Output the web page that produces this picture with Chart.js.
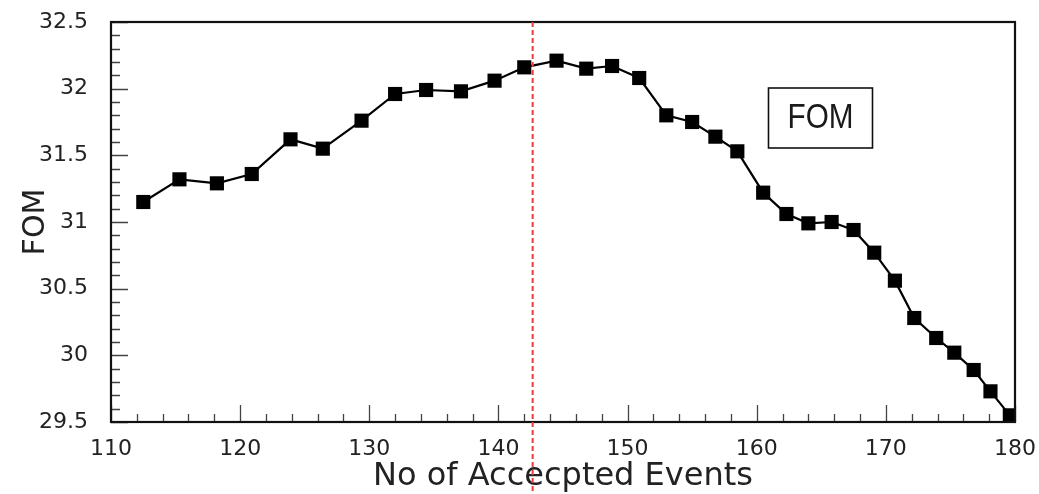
<!DOCTYPE html>
<html>
<head>
<meta charset="utf-8">
<script src="https://cdn.jsdelivr.net/npm/chart.js@4"></script>
<style>
    body { margin: 0; background: #fff; }
    #box { width: 1039px; height: 494px; position: relative; }
</style>
</head>
<body>
<div id="box"><canvas id="fomChart"></canvas></div>
<script>
// accepted events vs figure of merit
const acceptedEvents = [112.5, 115.3, 118.2, 120.9, 123.9, 126.4, 129.4, 132.0, 134.4, 137.1, 139.7,
    142.0, 144.5, 146.8, 148.8, 150.9, 153.0, 155.0, 156.8, 158.5, 160.5, 162.3, 164.0, 165.8,
    167.5, 169.1, 170.7, 172.2, 173.9, 175.3, 176.8, 178.1, 179.6];
const fomValues = [31.15, 31.32, 31.29, 31.36, 31.62, 31.55, 31.76, 31.96, 31.99, 31.98, 32.06,
    32.16, 32.21, 32.15, 32.17, 32.08, 31.80, 31.75, 31.64, 31.53, 31.22, 31.06, 30.99, 31.00,
    30.94, 30.77, 30.56, 30.28, 30.13, 30.02, 29.89, 29.73, 29.55];

const xTickValues = [110, 120, 130, 140, 150, 160, 170, 180];
const yTickValues = [29.5, 30, 30.5, 31, 31.5, 32, 32.5];
const xMinorStep = 2;
const yMinorStep = 0.1;

const cutValue = 142.65;   // chosen cut, red dashed line
const boxLabel = 'FOM';

let points = [];
for (let i = 0; i < acceptedEvents.length; i++) {
    points.push({ x: acceptedEvents[i], y: fomValues[i] });
}

Chart.defaults.font.family = 'DejaVu Sans';

// frame, inward ticks, cut line and the label box
const framePlugin = {
    id: 'frame',
    afterDatasetsDraw(chart) {
        const ctx = chart.ctx;
        const a = chart.chartArea;
        const xs = chart.scales.x;
        const ys = chart.scales.y;
        ctx.save();

        // minor / major ticks pointing into the plot
        ctx.strokeStyle = '#444';
        ctx.lineWidth = 1.3;
        ctx.beginPath();
        for (let v = xs.min; v <= xs.max + 1e-6; v += xMinorStep) {
            let px = Math.round(xs.getPixelForValue(v)) + 0.5;
            let len = Math.abs(v % 10) < 1e-6 ? 17 : 8;
            ctx.moveTo(px, a.bottom);
            ctx.lineTo(px, a.bottom - len);
        }
        for (let i = 0; i <= Math.round((ys.max - ys.min) / yMinorStep); i++) {
            let v = ys.min + i * yMinorStep;
            let py = Math.round(ys.getPixelForValue(v)) + 0.5;
            let len = i % 5 === 0 ? 17 : 9;
            ctx.moveTo(a.left, py);
            ctx.lineTo(a.left + len, py);
        }
        ctx.stroke();

        // box around the plot
        ctx.strokeStyle = '#111';
        ctx.lineWidth = 2.2;
        ctx.strokeRect(a.left, a.top, a.right - a.left, a.bottom - a.top);

        // cut line
        let cx = xs.getPixelForValue(cutValue);
        ctx.strokeStyle = '#f23a3a';
        ctx.lineWidth = 2;
        ctx.setLineDash([5, 3]);
        ctx.beginPath();
        ctx.moveTo(cx, a.top);
        ctx.lineTo(cx, chart.height);
        ctx.stroke();
        ctx.setLineDash([]);

        // label box
        ctx.strokeStyle = '#111';
        ctx.lineWidth = 1.6;
        ctx.strokeRect(768.5, 88, 104, 60);
        ctx.fillStyle = '#1a1a1a';
        ctx.font = '35px "Liberation Sans"';
        ctx.textAlign = 'center';
        ctx.textBaseline = 'middle';
        ctx.fillText(boxLabel, 820.5, 118, 66);
        ctx.restore();
    }
};

new Chart(document.getElementById('fomChart'), {
    type: 'line',
    data: {
        datasets: [{
            label: 'FOM',
            data: points,
            borderColor: '#000',
            borderWidth: 2.2,
            pointStyle: 'rect',
            pointRadius: 10,
            pointBorderWidth: 0,
            pointBackgroundColor: '#000',
            tension: 0,
            clip: 0
        }]
    },
    options: {
        responsive: true,
        maintainAspectRatio: false,
        animation: false,
        layout: { padding: { top: 22, right: 24, left: 0, bottom: 0 } },
        plugins: {
            legend: { display: false },
            tooltip: { enabled: false }
        },
        scales: {
            x: {
                type: 'linear',
                min: 110,
                max: 180,
                grid: { display: false, drawTicks: false },
                border: { display: false },
                afterBuildTicks: function (scale) {
                    scale.ticks = xTickValues.map(v => ({ value: v }));
                },
                afterFit: function (scale) {
                    scale.height = 72;
                    scale.paddingLeft = 0;
                    scale.paddingRight = 0;
                },
                ticks: {
                    color: '#222',
                    font: { size: 22 },
                    padding: 14,
                    maxRotation: 0,
                    autoSkip: false,
                    callback: v => String(v)
                },
                title: {
                    display: true,
                    text: 'No of Accecpted Events',
                    color: '#222',
                    font: { size: 32 },
                    padding: { top: 0, bottom: -2 }
                }
            },
            y: {
                min: 29.5,
                max: 32.5,
                grid: { display: false, drawTicks: false },
                border: { display: false },
                afterBuildTicks: function (scale) {
                    scale.ticks = yTickValues.map(v => ({ value: v }));
                },
                afterFit: function (scale) {
                    scale.width = 111;
                    scale.paddingTop = 0;
                    scale.paddingBottom = 0;
                },
                ticks: {
                    color: '#222',
                    font: { size: 22 },
                    padding: 23,
                    autoSkip: false,
                    callback: v => String(v)
                },
                title: {
                    display: true,
                    text: 'FOM',
                    color: '#222',
                    font: { size: 30 },
                    padding: { top: 18, bottom: 0 }
                }
            }
        }
    },
    plugins: [framePlugin]
});
</script>
</body>
</html>
